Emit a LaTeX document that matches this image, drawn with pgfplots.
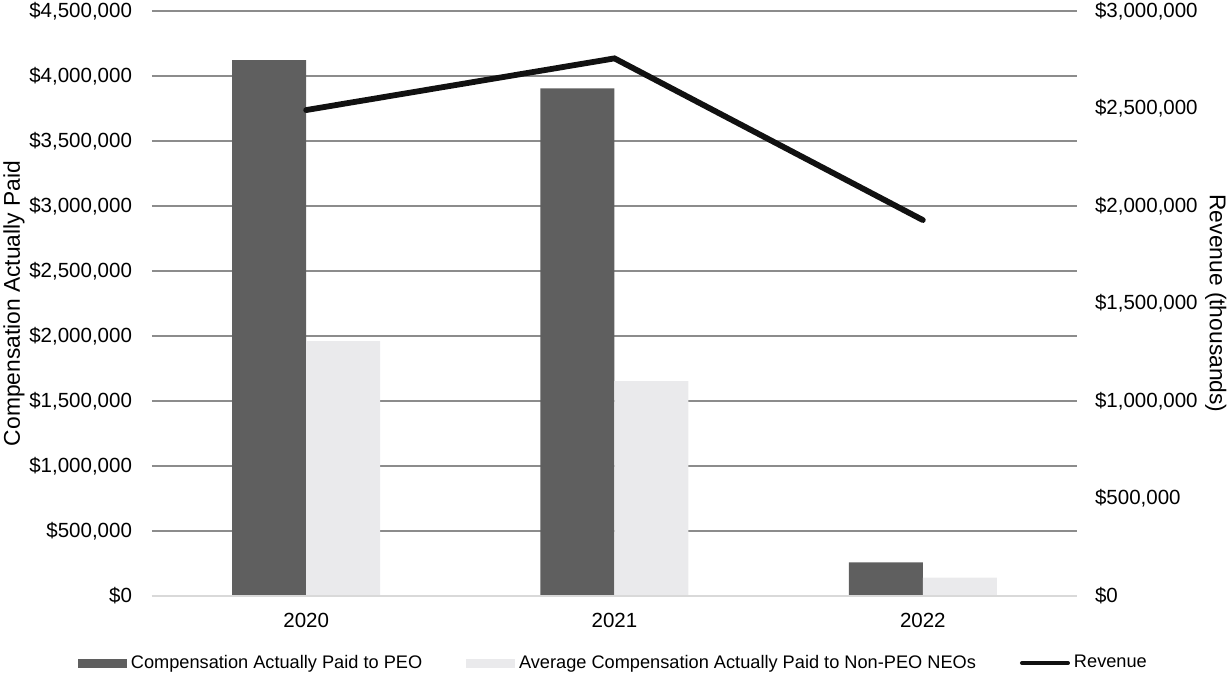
\documentclass[border=0pt]{standalone}
\usepackage{fontspec}
\setmainfont{Liberation Sans}
\usepackage{pgfplots}
\pgfplotsset{compat=1.18}
\definecolor{peo}{HTML}{5F5F5F}
\definecolor{neo}{HTML}{EAEAEC}
\definecolor{rev}{HTML}{111111}
\definecolor{gridgray}{HTML}{8C8C8C}
\definecolor{basegray}{HTML}{D9D9D9}

\pgfplotsset{
  cap frame/.style={
    width=462.5pt, height=292.5pt, scale only axis,
    at={(0,0)}, anchor=south west,
    xmin=-0.5, xmax=2.5, ymin=0,
    axis line style={draw=none}, major tick length=0pt,
    scaled y ticks=false,
    yticklabel={\$\pgfmathprintnumber[fixed,precision=0,1000 sep={,},assume math mode=true]{\tick}},
    ticklabel style={font=\fontsize{10.25}{12}\selectfont},
    label style={font=\fontsize{11.4}{13}\selectfont},
  }
}

\begin{document}
\begin{tikzpicture}
% page = 1228 x 676 px at 0.5pt per px, plot box starts at (152px, 596px)
\useasboundingbox (-76pt,-40pt) rectangle ++(614pt,338pt);
\begin{axis}[
  cap frame,
  ymax=4500000,
  xtick={0,1,2}, xticklabels={2020,2021,2022},
  ytick={0,500000,1000000,1500000,2000000,2500000,3000000,3500000,4000000,4500000},
  ymajorgrids, grid style={draw=gridgray, line width=1pt},
  ybar, bar width=0.24,
  yticklabel style={xshift=-6.5pt},
  xticklabel style={yshift=-5pt},
  ylabel={Compensation Actually Paid},
  ylabel style={at={(axis description cs:-0.1492,0.5)}, anchor=center},
]
  \addplot[fill=peo, draw=none, bar shift=-0.12]
    coordinates {(0,4123000) (1,3905000) (2,259000)};
  \addplot[fill=neo, draw=none, bar shift=0.12]
    coordinates {(0,1960000) (1,1652000) (2,141000)};
  \draw[basegray, line width=1pt] (rel axis cs:0,0) -- (rel axis cs:1,0);
\end{axis}

\begin{axis}[
  cap frame,
  ymax=3000000,
  hide x axis,
  axis y line*=right,
  ytick={0,500000,1000000,1500000,2000000,2500000,3000000},
  yticklabel style={xshift=5.5pt},
  ylabel={Revenue (thousands)},
  ylabel style={at={(axis description cs:1.150,0.5)}, anchor=center, rotate=180},
  legend columns=3,
  legend cell align=left,
  legend style={draw=none, fill=none, at={(axis description cs:0.5,-0.1145)}, anchor=center,
    font=\fontsize{9.1}{11}\selectfont,
    /tikz/every even column/.append style={column sep=20pt}},
]
  \addlegendimage{legend image code/.code={\fill[peo] (0pt,-2pt) rectangle (24pt,2pt);}}
  \addlegendentry{Compensation Actually Paid to PEO}
  \addlegendimage{legend image code/.code={\fill[neo] (0pt,-2pt) rectangle (24pt,2pt);}}
  \addlegendentry{Average Compensation Actually Paid to Non-PEO NEOs}
  \addplot[rev, line width=2.9pt, line cap=round, line join=miter, mark=none,
    legend image code/.code={\draw[rev, line width=2pt, line cap=round] (1pt,0pt) -- (24pt,0pt);}]
    coordinates {(0,2492000) (1,2757000) (2,1928000)};
  \addlegendentry{Revenue}
\end{axis}
\end{tikzpicture}
\end{document}
